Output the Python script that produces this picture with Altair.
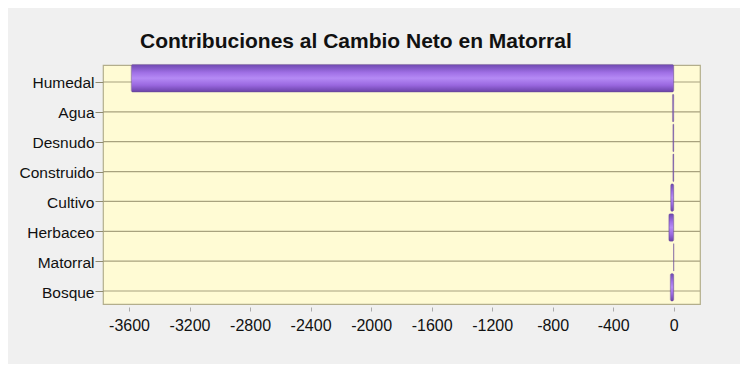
import altair as alt
import pandas as pd

categories = ["Humedal", "Agua", "Desnudo", "Construido", "Cultivo", "Herbaceo", "Matorral", "Bosque"]
values = [-3585, -8, -5, -5, -20, -32, 0, -22]
x_ticks = [-3600, -3200, -2800, -2400, -2000, -1600, -1200, -800, -400, 0]

df = pd.DataFrame({"cat": categories, "val": values})

W, H = 597, 239
yscale = alt.Scale(domain=categories, paddingInner=0.08, paddingOuter=0.042)
xscale = alt.Scale(domain=[-3772, 174], nice=False, zero=False)

yaxis = alt.Axis(
    labelFontSize=15.5,
    labelColor="#111111",
    labelFont="Liberation Sans",
    tickSize=8,
    tickColor="#8e8a70",
    tickOffset=2,
    labelOffset=1,
    labelPadding=1,
    domain=False,
    grid=False,
)

grid = alt.Chart(df).mark_rule(color="#a8a27e", strokeWidth=1.2, yOffset=2).encode(
    y=alt.Y("cat:N", scale=yscale, sort=categories, title=None, axis=yaxis),
    x=alt.value(0),
    x2=alt.value(W),
)

grad = alt.Gradient(
    gradient="linear",
    x1=0, x2=0, y1=0, y2=1,
    stops=[
        alt.GradientStop(color="#6e48b0", offset=0),
        alt.GradientStop(color="#a070e6", offset=0.3),
        alt.GradientStop(color="#b58af5", offset=0.5),
        alt.GradientStop(color="#9a68e0", offset=0.75),
        alt.GradientStop(color="#6a42a8", offset=1),
    ],
)

bars = alt.Chart(df).mark_bar(color=grad, stroke="#6a4a9a", strokeWidth=0.5, cornerRadius=1.5, yOffset=-1.8).encode(
    y=alt.Y("cat:N", scale=yscale, sort=categories, title=None, axis=yaxis),
    x=alt.X(
        "val:Q",
        scale=xscale,
        title=None,
        axis=alt.Axis(
            values=x_ticks,
            labelFontSize=16,
            labelColor="#111111",
            labelFont="Liberation Sans",
            labelExpr="'' + datum.value",
            tickSize=4,
            tickColor="#aaaaaa",
            offset=3,
            labelPadding=6,
            domain=False,
            grid=False,
        ),
    ),
)

chart = (
    alt.layer(grid, bars)
    .properties(
        width=W,
        height=H,
        autosize=alt.AutoSizeParams(type="none"),
        padding={"left": 95, "top": 57, "right": 40, "bottom": 60},
        background="#f0f0f0",
        title=alt.TitleParams(
            "Contribuciones al Cambio Neto en Matorral",
            anchor="start",
            frame="group",
            dx=37,
            fontSize=21,
            font="Liberation Sans",
            fontWeight="bold",
            color="#111111",
            offset=12,
        ),
    )
    .configure_view(fill="#fffbd4", stroke="#b3ae8c", strokeWidth=1.2)
)

chart.save("out.html", embed_options={"renderer": "svg", "actions": False})
